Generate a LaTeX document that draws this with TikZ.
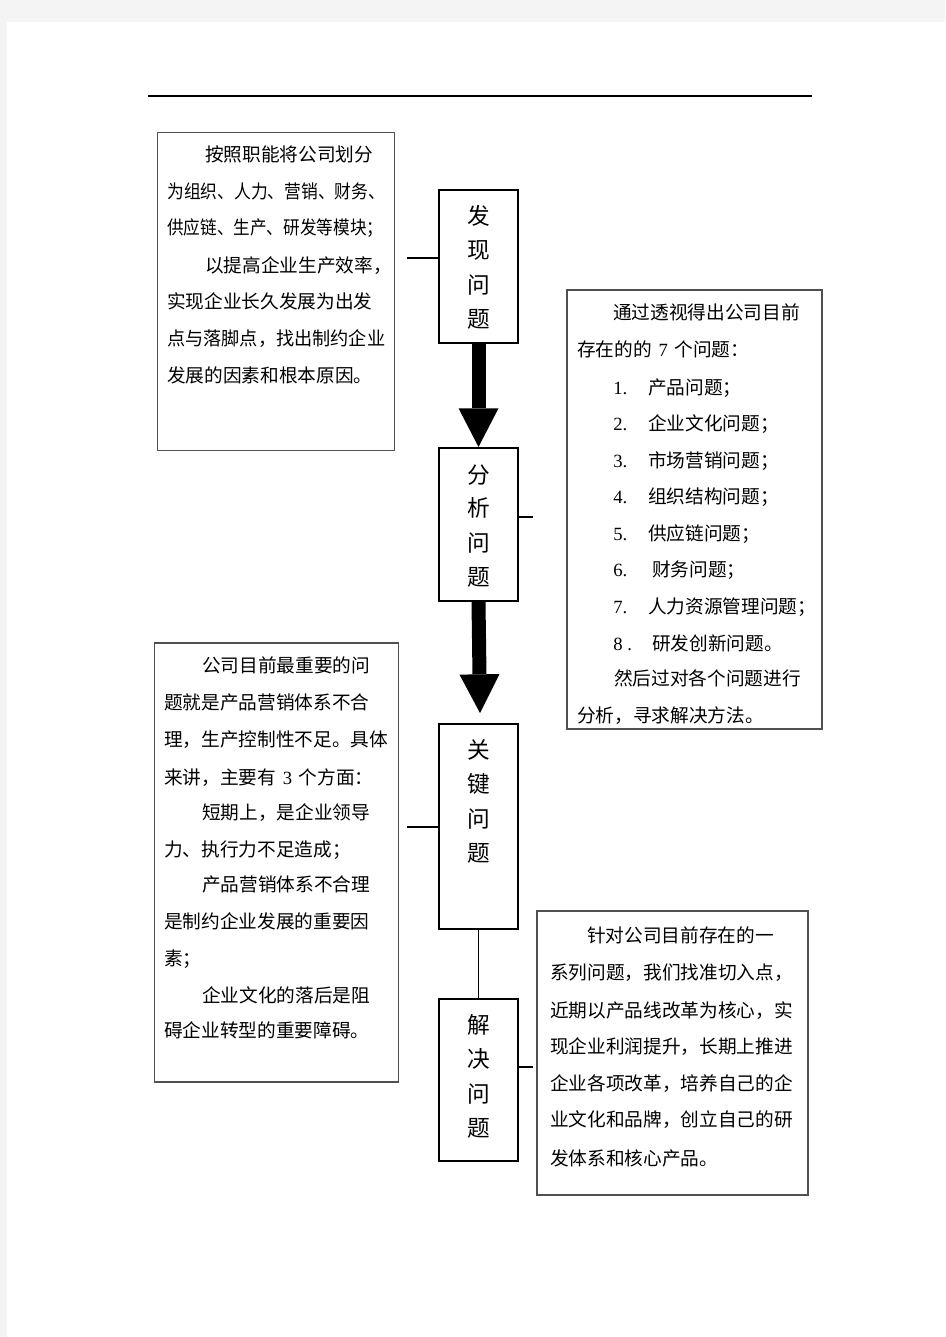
\documentclass[tikz,border=0pt]{standalone}
\usepackage{fontspec}
\usepackage{graphicx}
\setmainfont{Noto Sans CJK SC}
\newfontfamily\latn{Liberation Serif}
\usetikzlibrary{arrows.meta}
\definecolor{pagegray}{HTML}{F4F4F4}
\definecolor{boxline}{HTML}{505050}
\newcommand{\sqz}[2]{\resizebox{#1}{\height}{#2}}
\newcommand{\dg}[1]{\hspace{5pt}{\latn #1}\hspace{5pt}}
\begin{document}
\begin{tikzpicture}[x=0.75pt,y=-0.75pt,
  txt/.style={anchor=base west, inner sep=0pt, font=\fontsize{14}{16}\selectfont},
  num/.style={anchor=base west, inner sep=0pt, font=\fontsize{14}{16}\latn},
  lab/.style={anchor=base, inner sep=0pt, font=\fontsize{17}{20}\selectfont},
  tbox/.style={draw=boxline, line width=0.9pt, inner sep=0pt},
  flow/.style={draw=black, line width=1.6pt, inner sep=0pt, minimum width=59.25pt},
  conn/.style={draw=black, line width=1.1pt},
  bigarrow/.style={line width=10.5pt, -{Triangle[length=29pt,width=30pt,line width=0pt]}}]
\fill[pagegray] (0,0) rectangle (945,1337);
\fill[white] (7,22) rectangle (945,1337);
\useasboundingbox (0,0) rectangle (945,1337);
\draw[line width=1pt] (148,96) -- (812,96);

% text boxes
\node[tbox, minimum width=177.75pt, minimum height=238.5pt] (b1) at (276,291.5) {};
\node[tbox, minimum width=191.25pt, minimum height=329.25pt] (b2) at (694.5,509.5) {};
\node[tbox, minimum width=183pt, minimum height=329.25pt] (b3) at (276.5,862.5) {};
\node[tbox, minimum width=203.25pt, minimum height=213pt] (b4) at (672.5,1053) {};

% flow boxes
\node[flow, minimum height=114.75pt] (f1) at (478.5,266.5) {};
\node[flow, minimum height=114.75pt] (f2) at (478.5,524.5) {};
\node[flow, minimum height=153.75pt] (f3) at (478.5,826.5) {};
\node[flow, minimum height=121.5pt] (f4) at (478.5,1080) {};

% flow labels
\node[lab] (f1a) at (478.5,224.6) {发};
\node[lab] (f1b) at (478.5,258.6) {现};
\node[lab] (f1c) at (478.5,293.6) {问};
\node[lab] (f1d) at (478.5,327.6) {题};
\node[lab] (f2a) at (478.5,483.6) {分};
\node[lab] (f2b) at (478.5,516.6) {析};
\node[lab] (f2c) at (478.5,551.6) {问};
\node[lab] (f2d) at (478.5,585.6) {题};
\node[lab] (f3a) at (478.5,758.6) {关};
\node[lab] (f3b) at (478.5,792.6) {键};
\node[lab] (f3c) at (478.5,827.6) {问};
\node[lab] (f3d) at (478.5,861.6) {题};
\node[lab] (f4a) at (478.5,1033.6) {解};
\node[lab] (f4b) at (478.5,1067.6) {决};
\node[lab] (f4c) at (478.5,1102.6) {问};
\node[lab] (f4d) at (478.5,1136.6) {题};

% arrows and connectors
\coordinate (a2) at (480,713);
\draw[bigarrow] (f1.south) -- (f2.north);
\draw[bigarrow] (f2.south) -- (a2);
\coordinate (c1) at (407,258);
\coordinate (c2) at (533,517);
\coordinate (c3) at (407,827);
\coordinate (c4) at (533,1067);
\draw[conn] (c1) -- (c1 -| f1.west);
\draw[conn] (c2 -| f2.east) -- (c2);
\draw[conn] (c3) -- (c3 -| f3.west);
\draw[conn] (c4 -| f4.east) -- (c4);
\draw[conn] (f3.south) -- (f4.north);

% box 1 text
\node[txt] (t11) at (205,162) {按照职能将公司划分};
\node[txt] (t12) at (167,199) {\sqz{163.5pt}{为组织、人力、营销、财务、}};
\node[txt] (t13) at (167,235) {\sqz{162pt}{供应链、生产、研发等模块；}};
\node[txt] (t14) at (205,273) {以提高企业生产效率，};
\node[txt] (t15) at (167,309) {实现企业长久发展为出发};
\node[txt] (t16) at (167,345) {\sqz{163.5pt}{点与落脚点，找出制约企业}};
\node[txt] (t17) at (167,382) {发展的因素和根本原因。};

% box 2 text
\node[txt] (t21) at (613,320) {通过透视得出公司目前};
\node[txt] (t22) at (577,356) {存在的的\dg{7}个问题：};
\node[num] (n1) at (613,394) {1.};
\node[txt] (i1) at (648,394) {产品问题；};
\node[num] (n2) at (613,430) {2.};
\node[txt] (i2) at (648,430) {企业文化问题；};
\node[num] (n3) at (613,467) {3.};
\node[txt] (i3) at (648,467) {市场营销问题；};
\node[num] (n4) at (613,503) {4.};
\node[txt] (i4) at (648,503) {组织结构问题；};
\node[num] (n5) at (613,540) {5.};
\node[txt] (i5) at (648,540) {供应链问题；};
\node[num] (n6) at (613,576) {6.};
\node[txt] (i6) at (652,576) {财务问题；};
\node[num] (n7) at (613,613) {7.};
\node[txt] (i7) at (648,613) {人力资源管理问题；};
\node[num] (n8) at (613,650) {8 .};
\node[txt] (i8) at (652,650) {研发创新问题。};
\node[txt] (t23) at (614,685) {然后过对各个问题进行};
\node[txt] (t24) at (577,722) {分析，寻求解决方法。};

% box 3 text
\node[txt] (t31) at (202,672) {公司目前最重要的问};
\node[txt] (t32) at (164,709) {题就是产品营销体系不合};
\node[txt] (t33) at (164,746) {理，生产控制性不足。具体};
\node[txt] (t34) at (164,784) {来讲，主要有\dg{3}个方面：};
\node[txt] (t35) at (202,819) {短期上，是企业领导};
\node[txt] (t36) at (164,856) {力、执行力不足造成；};
\node[txt] (t37) at (202,891) {产品营销体系不合理};
\node[txt] (t38) at (164,928) {是制约企业发展的重要因};
\node[txt] (t39) at (164,965) {素；};
\node[txt] (t3a) at (202,1002) {企业文化的落后是阻};
\node[txt] (t3b) at (164,1037) {碍企业转型的重要障碍。};

% box 4 text
\node[txt] (t41) at (587,942) {针对公司目前存在的一};
\node[txt] (t42) at (550,979) {系列问题，我们找准切入点，};
\node[txt] (t43) at (550,1017) {近期以产品线改革为核心，实};
\node[txt] (t44) at (550,1053) {现企业利润提升，长期上推进};
\node[txt] (t45) at (550,1090) {企业各项改革，培养自己的企};
\node[txt] (t46) at (550,1126) {业文化和品牌，创立自己的研};
\node[txt] (t47) at (550,1165) {发体系和核心产品。};
\end{tikzpicture}
\end{document}
